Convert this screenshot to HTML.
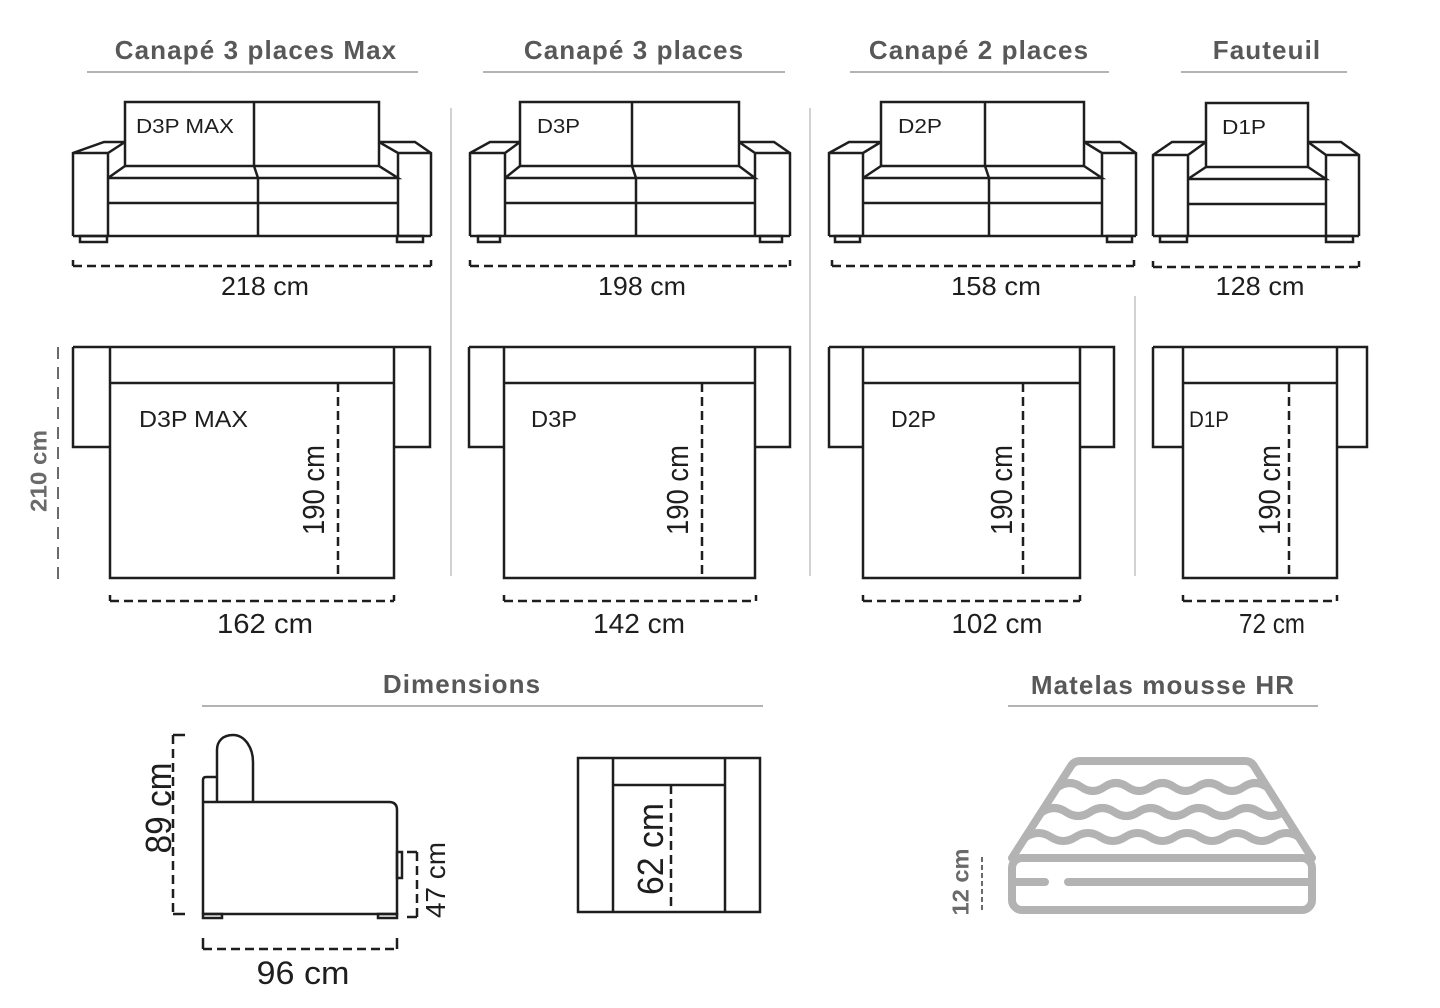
<!DOCTYPE html>
<html><head><meta charset="utf-8"><style>
html,body{margin:0;padding:0;background:#fff;}
svg{display:block;}
.t{font-family:"Liberation Sans",Arial,sans-serif;font-weight:bold;fill:#585858;font-size:26px;letter-spacing:1.1px;}
.l{font-family:"Liberation Sans",Arial,sans-serif;fill:#1e1e1e;}
.g{font-family:"Liberation Sans",Arial,sans-serif;font-weight:bold;fill:#6a6a6a;}
.s{fill:none;stroke:#1e1e1e;stroke-width:2.5;stroke-linejoin:miter;}
.d{fill:none;stroke:#1e1e1e;stroke-width:2.5;stroke-dasharray:9 5;}
.u{stroke:#9a9a9a;stroke-width:1.5;}
.sep{stroke:#c4c4c4;stroke-width:1.5;}
.m{fill:none;stroke:#b3b3b3;stroke-width:8;stroke-linecap:round;stroke-linejoin:round;}
</style></head><body>
<svg width="1440" height="1008" viewBox="0 0 1440 1008" xmlns="http://www.w3.org/2000/svg">
<!-- Titles -->
<text class="t" x="256" y="59" text-anchor="middle">Canapé 3 places Max</text>
<text class="t" x="634" y="59" text-anchor="middle">Canapé 3 places</text>
<text class="t" x="979" y="59" text-anchor="middle">Canapé 2 places</text>
<text class="t" x="1267" y="59" text-anchor="middle">Fauteuil</text>
<line class="u" x1="87" y1="72" x2="418" y2="72"/>
<line class="u" x1="483" y1="72" x2="785" y2="72"/>
<line class="u" x1="850" y1="72" x2="1109" y2="72"/>
<line class="u" x1="1181" y1="72" x2="1347" y2="72"/>

<!-- separators -->
<line class="sep" x1="451" y1="108" x2="451" y2="576"/>
<line class="sep" x1="810" y1="108" x2="810" y2="576"/>
<line class="sep" x1="1135" y1="296" x2="1135" y2="576"/>

<!-- Front sofa 1 -->
<rect class="s" x="125" y="102" width="254" height="64"/>
<path class="s" d="M254,102V166 M73,236V153L104,142H125 M73,153H108L125,142 M108,153V236 M431,236V153L415,142H379 M431,153H398L379,142 M398,153V236 M108,178L125,166 M108,178H398L379,166 M108,203H398 M73,236H431 M254,166L258,178V236"/>
<rect class="s" x="80" y="236" width="27" height="6"/>
<rect class="s" x="397" y="236" width="26" height="6"/>
<text class="l" x="136" y="133" font-size="20" textLength="98" lengthAdjust="spacingAndGlyphs">D3P MAX</text>
<path class="s" d="M73,260V266 M431,260V266"/>
<line class="d" x1="73" y1="266" x2="431" y2="266"/>
<text class="l" x="265" y="295" font-size="26" text-anchor="middle" textLength="88" lengthAdjust="spacingAndGlyphs">218 cm</text>

<!-- Front sofa 2 -->
<rect class="s" x="520" y="102" width="219" height="64"/>
<path class="s" d="M632,102V166 M470,236V153L490,142H520 M470,153H505L520,142 M505,153V236 M790,236V153L774,142H739 M790,153H755L739,142 M755,153V236 M505,178L520,166 M505,178H755L739,166 M505,203H755 M470,236H790 M632,166L636,178V236"/>
<rect class="s" x="478" y="236" width="22" height="6"/>
<rect class="s" x="760" y="236" width="22" height="6"/>
<text class="l" x="537" y="133" font-size="20" textLength="43" lengthAdjust="spacingAndGlyphs">D3P</text>
<path class="s" d="M470,260V266 M790,260V266"/>
<line class="d" x1="470" y1="266" x2="790" y2="266"/>
<text class="l" x="642" y="295" font-size="26" text-anchor="middle" textLength="88" lengthAdjust="spacingAndGlyphs">198 cm</text>

<!-- Front sofa 3 -->
<rect class="s" x="881" y="102" width="203" height="64"/>
<path class="s" d="M985,102V166 M829,236V153L849,142H881 M829,153H863L881,142 M863,153V236 M1136,236V153L1120,142H1084 M1136,153H1102L1084,142 M1102,153V236 M863,178L881,166 M863,178H1102L1084,166 M863,203H1102 M829,236H1136 M985,166L989,178V236"/>
<rect class="s" x="835" y="236" width="25" height="6"/>
<rect class="s" x="1107" y="236" width="25" height="6"/>
<text class="l" x="898" y="133" font-size="20" textLength="44" lengthAdjust="spacingAndGlyphs">D2P</text>
<path class="s" d="M832,260V266 M1134,260V266"/>
<line class="d" x1="832" y1="266" x2="1134" y2="266"/>
<text class="l" x="996" y="295" font-size="26" text-anchor="middle" textLength="90" lengthAdjust="spacingAndGlyphs">158 cm</text>

<!-- Front fauteuil -->
<rect class="s" x="1206" y="103" width="102" height="64"/>
<path class="s" d="M1153,236V155L1172,142H1206 M1153,155H1188L1206,142 M1188,155V236 M1359,236V155L1341,142H1308 M1359,155H1326L1308,142 M1326,155V236 M1188,179L1206,167 M1188,179H1326L1308,167 M1188,204H1326 M1153,236H1359"/>
<rect class="s" x="1160" y="236" width="27" height="6"/>
<rect class="s" x="1326" y="236" width="27" height="6"/>
<text class="l" x="1222" y="134" font-size="20" textLength="44" lengthAdjust="spacingAndGlyphs">D1P</text>
<path class="s" d="M1153,261V267 M1359,261V267"/>
<line class="d" x1="1153" y1="267" x2="1359" y2="267"/>
<text class="l" x="1260" y="295" font-size="26" text-anchor="middle" textLength="89" lengthAdjust="spacingAndGlyphs">128 cm</text>

<!-- 210 cm -->
<line x1="58" y1="347" x2="58" y2="583" stroke="#6a6a6a" stroke-width="2" stroke-dasharray="12 8"/>
<text class="g" transform="translate(38,471) rotate(-90)" y="8.5" font-size="23" text-anchor="middle" textLength="82" lengthAdjust="spacingAndGlyphs">210 cm</text>

<!-- Top view 1 -->
<path class="s" d="M73,347H430V447H394 M73,347V447H110 M110,347V578H394V347 M110,383H394"/>
<line class="d" x1="338" y1="383" x2="338" y2="578"/>
<text class="l" x="139" y="427" font-size="23" textLength="109" lengthAdjust="spacingAndGlyphs">D3P MAX</text>
<text class="l" transform="translate(313,490) rotate(-90)" y="11" font-size="31" text-anchor="middle" textLength="90" lengthAdjust="spacingAndGlyphs">190 cm</text>
<path class="s" d="M110,595V601 M394,595V601"/>
<line class="d" x1="110" y1="601" x2="394" y2="601"/>
<text class="l" x="265" y="633" font-size="28" text-anchor="middle" textLength="96" lengthAdjust="spacingAndGlyphs">162 cm</text>

<!-- Top view 2 -->
<path class="s" d="M469,347H790V447H755 M469,347V447H504 M504,347V578H755V347 M504,383H755"/>
<line class="d" x1="702" y1="383" x2="702" y2="578"/>
<text class="l" x="531" y="427" font-size="23" textLength="46" lengthAdjust="spacingAndGlyphs">D3P</text>
<text class="l" transform="translate(677,490) rotate(-90)" y="11" font-size="31" text-anchor="middle" textLength="90" lengthAdjust="spacingAndGlyphs">190 cm</text>
<path class="s" d="M504,595V601 M756,595V601"/>
<line class="d" x1="504" y1="601" x2="756" y2="601"/>
<text class="l" x="639" y="633" font-size="28" text-anchor="middle" textLength="92" lengthAdjust="spacingAndGlyphs">142 cm</text>

<!-- Top view 3 -->
<path class="s" d="M829,347H1114V447H1080 M829,347V447H863 M863,347V578H1080V347 M863,383H1080"/>
<line class="d" x1="1023" y1="383" x2="1023" y2="578"/>
<text class="l" x="891" y="427" font-size="23" textLength="45" lengthAdjust="spacingAndGlyphs">D2P</text>
<text class="l" transform="translate(1001,490) rotate(-90)" y="11" font-size="31" text-anchor="middle" textLength="90" lengthAdjust="spacingAndGlyphs">190 cm</text>
<path class="s" d="M863,595V601 M1080,595V601"/>
<line class="d" x1="863" y1="601" x2="1080" y2="601"/>
<text class="l" x="997" y="633" font-size="28" text-anchor="middle" textLength="91" lengthAdjust="spacingAndGlyphs">102 cm</text>

<!-- Top view 4 -->
<path class="s" d="M1153,347H1367V447H1337 M1153,347V447H1183 M1183,347V578H1337V347 M1183,383H1337"/>
<line class="d" x1="1289" y1="383" x2="1289" y2="578"/>
<text class="l" x="1189" y="427" font-size="22" textLength="40" lengthAdjust="spacingAndGlyphs">D1P</text>
<text class="l" transform="translate(1269,490) rotate(-90)" y="11" font-size="31" text-anchor="middle" textLength="90" lengthAdjust="spacingAndGlyphs">190 cm</text>
<path class="s" d="M1183,595V601 M1337,595V601"/>
<line class="d" x1="1183" y1="601" x2="1337" y2="601"/>
<text class="l" x="1272" y="633" font-size="28" text-anchor="middle" textLength="66" lengthAdjust="spacingAndGlyphs">72 cm</text>

<!-- Bottom titles -->
<text class="t" x="462" y="693" text-anchor="middle">Dimensions</text>
<line class="u" x1="202" y1="706" x2="763" y2="706"/>
<text class="t" x="1163" y="694" text-anchor="middle">Matelas mousse HR</text>
<line class="u" x1="1008" y1="706" x2="1318" y2="706"/>

<!-- Side view -->
<path class="s" d="M217,802V750C217,741 223,735 233,735C245,735 253,748 253,762V802"/>
<path class="s" d="M203,914V780Q203,777 206,777H217"/>
<path class="s" d="M203,802H389Q397,802 397,810V914H203"/>
<rect class="s" x="203" y="914" width="19" height="4"/>
<rect class="s" x="378" y="914" width="19" height="4"/>
<rect class="s" x="397" y="852" width="5" height="26"/>
<path class="s" d="M173,735H185 M173,914H185"/>
<line class="d" x1="173" y1="735" x2="173" y2="914"/>
<text class="l" transform="translate(158,808) rotate(-90)" y="13" font-size="36" text-anchor="middle" textLength="91" lengthAdjust="spacingAndGlyphs">89 cm</text>
<path class="s" d="M407,852H417 M407,917H417"/>
<line class="d" x1="417" y1="852" x2="417" y2="917"/>
<text class="l" transform="translate(435,880) rotate(-90)" y="10" font-size="28" text-anchor="middle" textLength="76" lengthAdjust="spacingAndGlyphs">47 cm</text>
<path class="s" d="M203,938V949 M397,938V949"/>
<line class="d" x1="203" y1="949" x2="397" y2="949"/>
<text class="l" x="303" y="984" font-size="32" text-anchor="middle" textLength="93" lengthAdjust="spacingAndGlyphs">96 cm</text>

<!-- Armchair top view small -->
<rect class="s" x="578" y="758" width="182" height="154"/>
<path class="s" d="M613,758V912 M725,758V912 M613,785H725"/>
<line class="d" x1="671" y1="785" x2="671" y2="912"/>
<text class="l" transform="translate(650,849) rotate(-90)" y="13" font-size="36" text-anchor="middle" textLength="92" lengthAdjust="spacingAndGlyphs">62 cm</text>

<!-- Mattress -->
<path class="m" d="M1012,858L1071,766Q1074,761 1080,761H1245Q1251,761 1254,766L1312,858"/>
<rect class="m" x="1012" y="858" width="300" height="52" rx="10"/>
<path class="m" d="M1014,882H1045 M1068,882H1310"/>
<path class="m" d="M1058,787q11.6,-8 23.2,0t23.2,0t23.2,0t23.2,0t23.2,0t23.2,0t23.2,0t23.2,0t23.2,0"/>
<path class="m" d="M1042,812q12.05,-8 24.1,0t24.1,0t24.1,0t24.1,0t24.1,0t24.1,0t24.1,0t24.1,0t24.1,0t24.1,0"/>
<path class="m" d="M1026,837q12.4,-8 24.8,0t24.8,0t24.8,0t24.8,0t24.8,0t24.8,0t24.8,0t24.8,0t24.8,0t24.8,0t24.8,0"/>
<line x1="982" y1="857" x2="982" y2="913" stroke="#6a6a6a" stroke-width="2" stroke-dasharray="5 3"/>
<text class="g" transform="translate(960,882) rotate(-90)" y="8.5" font-size="23" text-anchor="middle" textLength="67" lengthAdjust="spacingAndGlyphs">12 cm</text>
</svg>
</body></html>
